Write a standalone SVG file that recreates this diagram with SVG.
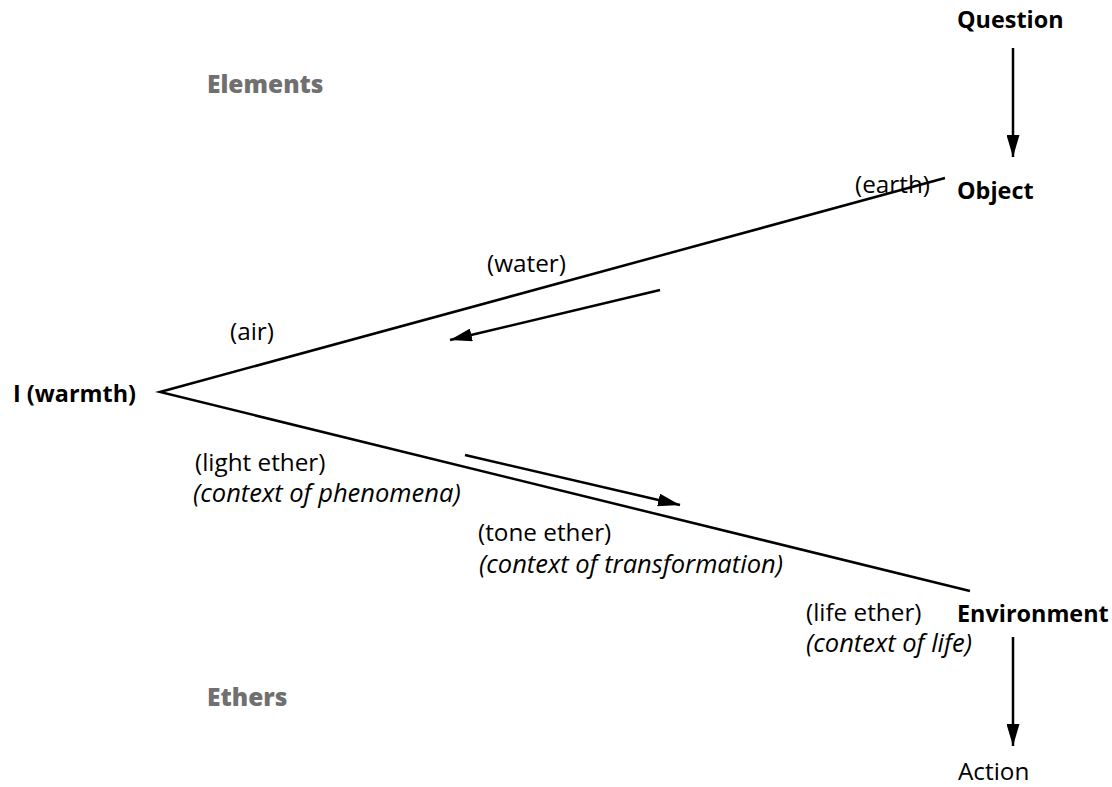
<svg xmlns="http://www.w3.org/2000/svg" width="1112" height="787" viewBox="0 0 1112 787">
<defs>
<style>
text{font-family:"Open Sans","Noto Sans",sans-serif;font-size:24.3px;fill:#000}
.b{font-weight:bold;font-size:23.4px}
.i{font-style:italic;font-size:25.5px}
.g{fill:#707070;font-weight:800;font-size:24.5px}
.ln{stroke:#000;stroke-width:2.5;fill:none}
</style>
<marker id="ah" viewBox="0 0 22 13" refX="22" refY="6.5" markerWidth="22" markerHeight="13" markerUnits="userSpaceOnUse" orient="auto">
<path d="M0,0 L22,6.5 L0,13 z" fill="#000"/>
</marker>
</defs>
<rect width="1112" height="787" fill="#fff"/>
<g id="connectors">
<polyline class="ln" points="945,178 160,392 970,591"/>
<line class="ln" x1="1013" y1="48" x2="1013" y2="157" marker-end="url(#ah)"/>
<line class="ln" x1="1013" y1="637" x2="1013" y2="746" marker-end="url(#ah)"/>
<line class="ln" x1="660" y1="290" x2="450" y2="340" marker-end="url(#ah)"/>
<line class="ln" x1="465" y1="455" x2="680" y2="505" marker-end="url(#ah)"/>
</g>
<g id="question"><text class="b" x="957" y="28">Question</text></g>
<g id="object"><text class="b" x="957" y="199">Object</text></g>
<g id="earth"><text x="855" y="193">(earth)</text></g>
<g id="water"><text x="487" y="272">(water)</text></g>
<g id="air"><text x="230" y="340">(air)</text></g>
<g id="warmth"><text class="b" x="13" y="402">I (warmth)</text></g>
<g id="light"><text x="195" y="471">(light ether)</text><text class="i" x="193" y="502">(context of phenomena)</text></g>
<g id="tone"><text x="478" y="541">(tone ether)</text><text class="i" x="479" y="573">(context of transformation)</text></g>
<g id="life"><text x="806" y="621">(life ether)</text><text class="i" x="806" y="652">(context of life)</text></g>
<g id="environment"><text class="b" x="957" y="622">Environment</text></g>
<g id="action"><text x="958" y="780">Action</text></g>
<g id="elements"><text class="g" x="207" y="93">Elements</text></g>
<g id="ethers"><text class="g" x="207" y="706">Ethers</text></g>
</svg>
